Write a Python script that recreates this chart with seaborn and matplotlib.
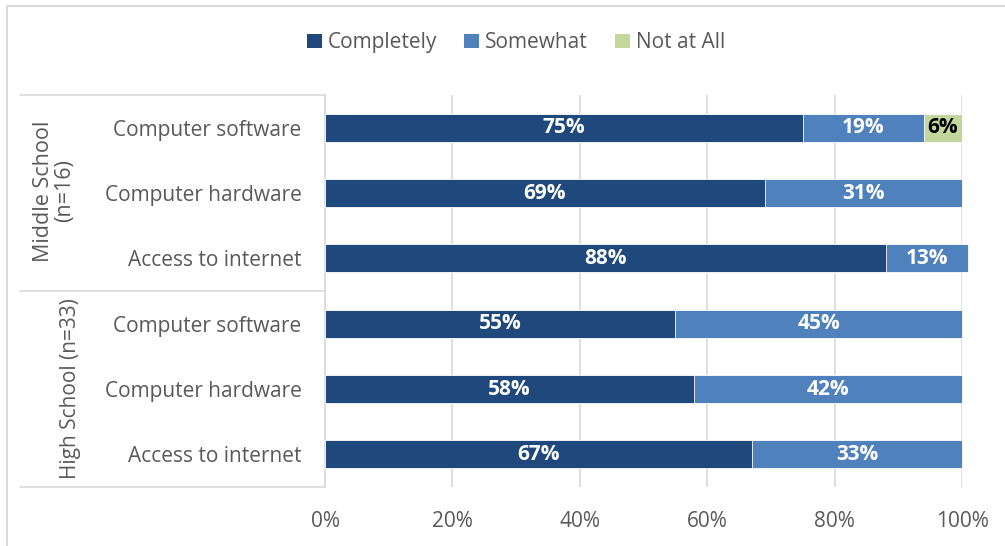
import matplotlib
matplotlib.use("Agg")
import matplotlib.pyplot as plt
import seaborn as sns
import pandas as pd
from matplotlib.lines import Line2D
from matplotlib.patches import Patch

# data
groups = ["Middle School\n(n=16)", "High School (n=33)"]
items = ["Computer software", "Computer hardware", "Access to internet"]
completely = [75, 69, 88, 55, 58, 67]
somewhat = [19, 31, 13, 45, 42, 33]
not_at_all = [6, 0, 0, 0, 0, 0]
series = ["Completely", "Somewhat", "Not at All"]
colors = ["#1F497D", "#4F81BD", "#C3D69B"]
ticks = [0, 20, 40, 60, 80, 100]

rows = [f"{g}|{i}" for g in groups for i in items]
df = pd.DataFrame({
    "row": rows,
    "completely": completely,
    "somewhat": somewhat,
    "not_at_all": not_at_all,
})
df["c2"] = df["completely"] + df["somewhat"]
df["c3"] = df["c2"] + df["not_at_all"]

sns.set_theme(style="white")
plt.rcParams["font.family"] = ["Open Sans", "DejaVu Sans"]
grey_txt = "#595959"
line_col = "#D9D9D9"
fs = 15

fig = plt.figure(figsize=(10.05, 5.46), dpi=100)
W, H = 1005, 546
ax = fig.add_axes([325 / W, 1 - 487 / H, (962 - 325) / W, 392 / H])

# stacked bars: draw cumulative totals back to front
for col, c in zip(["c3", "c2", "completely"], colors[::-1]):
    sns.barplot(data=df, x=col, y="row", orient="h", color=c, saturation=1,
                width=0.43, edgecolor="white", linewidth=0.6, ax=ax, zorder=3)
for p in ax.patches:
    p.set_clip_on(False)

# data labels
for k in range(len(rows)):
    left = 0
    for val, name in zip([completely[k], somewhat[k], not_at_all[k]], series):
        if val > 0:
            tc = "black" if name == "Not at All" else "white"
            ax.text(left + val / 2, k, f"{val}%", ha="center", va="center",
                    color=tc, fontsize=fs, fontweight="bold", zorder=5)
        left += val

ax.set_xlim(0, 100)
ax.set_ylim(len(rows) - 0.5, -0.5)
ax.set_xticks(ticks)
ax.set_xticklabels([f"{t}%" for t in ticks])
ax.set_yticks(range(len(rows)))
ax.set_yticklabels([r.split("|")[1] for r in rows])
ax.set_xlabel("")
ax.set_ylabel("")
ax.tick_params(axis="y", length=0, pad=17, labelsize=fs, labelcolor=grey_txt)
ax.tick_params(axis="x", length=0, pad=17, labelsize=fs, labelcolor=grey_txt)
ax.grid(axis="x", color=line_col, lw=1.2, zorder=0)
ax.grid(axis="y", visible=False)
for s in ["top", "right", "bottom"]:
    ax.spines[s].set_visible(False)
ax.spines["left"].set_color(line_col)
ax.spines["left"].set_linewidth(1.2)
ax.set_axisbelow(True)

# group separator lines and group labels
for yy in [95, 291, 487]:
    fig.add_artist(Line2D([20 / W, 325 / W], [1 - yy / H, 1 - yy / H],
                          color=line_col, lw=1.2))
fig.text(54 / W, 1 - 191 / H, groups[0], rotation=90, ha="center", va="center",
         fontsize=fs + 0.5, color=grey_txt, linespacing=1.0)
fig.text(70 / W, 1 - 389 / H, groups[1], rotation=90, ha="center", va="center",
         fontsize=fs, color=grey_txt)

# outer chart border (left and top visible)
fig.add_artist(Line2D([7 / W, 7 / W], [0, 1 - 6 / H], color=line_col, lw=1.5))
fig.add_artist(Line2D([7 / W, 1], [1 - 6 / H, 1 - 6 / H], color=line_col, lw=1.5))

handles = [Patch(facecolor=c, edgecolor="none") for c in colors]
leg = fig.legend(handles, series, loc="center", bbox_to_anchor=(516 / W, 1 - 43 / H),
                 ncol=3, frameon=False, fontsize=fs, handlelength=0.7,
                 handleheight=0.7, handletextpad=0.3, columnspacing=1.3)
for t in leg.get_texts():
    t.set_color(grey_txt)

fig.savefig("out.png", dpi=100)
